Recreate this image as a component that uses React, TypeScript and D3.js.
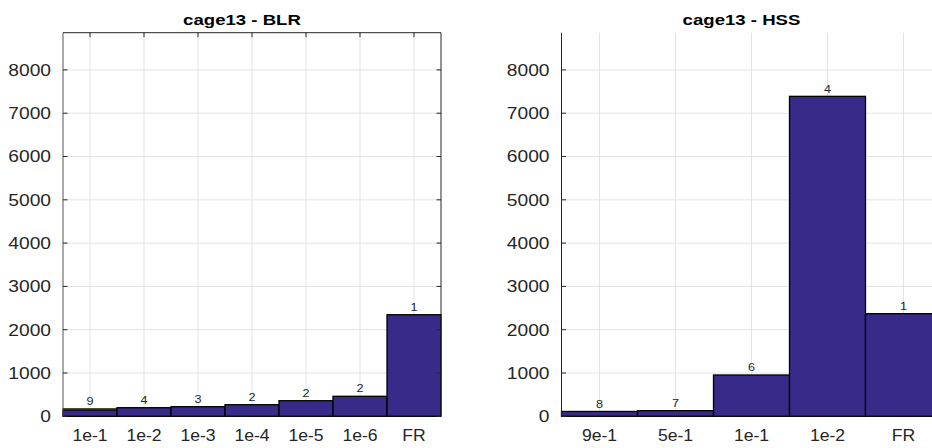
import React from 'react';
import * as d3 from 'd3';

const blrCategories = ['1e-1', '1e-2', '1e-3', '1e-4', '1e-5', '1e-6', 'FR'];
const blrValues = [145, 199, 222, 268, 360, 462, 2346];
const blrOlive = [180, 0, 0, 0, 0, 0, 0];
const blrCounts = [9, 4, 3, 2, 2, 2, 1];

const hssCategories = ['9e-1', '5e-1', '1e-1', '1e-2', 'FR'];
const hssValues = [112, 130, 954, 7390, 2370];
const hssCounts = [8, 7, 6, 4, 1];

const yTickValues = [0, 1000, 2000, 3000, 4000, 5000, 6000, 7000, 8000];
const yMax = 8860;

const BAR = '#372a88';
const OLIVE = '#817b12';
const GRID = '#e3e3e3';
const AXIS = '#262626';
const SX = 1.2;

type PanelProps = {
  title: string;
  cats: string[];
  values: number[];
  counts: number[];
  olive?: number[];
  x0: number;
  x1: number;
  box: boolean;
};

const TOP = 32.7;
const BOTTOM = 416.3;

function Txt({ x, y, size, anchor, weight, children, sx = SX }: any) {
  return (
    <text
      transform={`translate(${x},${y}) scale(${sx},1)`}
      fontSize={size}
      textAnchor={anchor}
      fontWeight={weight || 'normal'}
      style={{ fontFamily: "'Liberation Sans', Arial, sans-serif" }}
      fill={weight === 'bold' ? '#000' : AXIS}
    >
      {children}
    </text>
  );
}

function Panel({ title, cats, values, counts, olive, x0, x1, box }: PanelProps) {
  const x = d3.scaleBand<string>().domain(cats).range([x0, x1]).padding(0);
  const y = d3.scaleLinear().domain([0, yMax]).range([BOTTOM, TOP]);
  const bw = x.bandwidth();
  const cx = (c: string) => (x(c) as number) + bw / 2;
  return (
    <g>
      {yTickValues.map((t) => (
        <line key={'hg' + t} x1={x0} x2={x1} y1={y(t)} y2={y(t)} stroke={GRID} strokeWidth={1} />
      ))}
      {cats.map((c) => (
        <line key={'vg' + c} x1={cx(c)} x2={cx(c)} y1={TOP} y2={BOTTOM} stroke={GRID} strokeWidth={1} />
      ))}
      {olive &&
        olive.map((v, i) =>
          v > 0 ? (
            <rect
              key={'ol' + i}
              x={x(cats[i]) as number}
              y={y(v)}
              width={bw}
              height={BOTTOM - y(v)}
              fill={OLIVE}
              stroke="#000"
              strokeWidth={0.6}
            />
          ) : null
        )}
      {values.map((v, i) => (
        <rect
          key={'b' + i}
          x={x(cats[i]) as number}
          y={y(v)}
          width={bw}
          height={BOTTOM - y(v)}
          fill={BAR}
          stroke="#000"
          strokeWidth={1.3}
        />
      ))}
      {counts.map((n, i) => {
        const top = Math.max(values[i], olive ? olive[i] : 0);
        return (
          <Txt key={'c' + i} x={cx(cats[i])} y={y(top) - 3.8} size={11.5} anchor="middle" sx={1.1}>
            {String(n)}
          </Txt>
        );
      })}
      <line x1={x0} x2={x0} y1={TOP} y2={BOTTOM} stroke={box ? '#555' : AXIS} strokeWidth={1} />
      {box && <line x1={x0} x2={x1} y1={TOP} y2={TOP} stroke={AXIS} strokeWidth={1} />}
      {box && <line x1={x1} x2={x1} y1={TOP} y2={BOTTOM} stroke={AXIS} strokeWidth={1} />}
      {yTickValues.map((t) => (
        <line key={'yt' + t} x1={x0} x2={x0 + 4.5} y1={y(t)} y2={y(t)} stroke={AXIS} strokeWidth={1} />
      ))}
      {box &&
        yTickValues.map((t) => (
          <line key={'ytr' + t} x1={x1} x2={x1 - 4.5} y1={y(t)} y2={y(t)} stroke={AXIS} strokeWidth={1} />
        ))}
      {box &&
        cats.map((c) => (
          <line key={'xtt' + c} x1={cx(c)} x2={cx(c)} y1={TOP} y2={TOP + 4.5} stroke={AXIS} strokeWidth={1} />
        ))}
      {yTickValues.map((t) => (
        <Txt key={'yl' + t} x={x0 - 12} y={y(t) + 5.8} size={16} anchor="end">
          {String(t)}
        </Txt>
      ))}
      {cats.map((c) => (
        <Txt key={'xl' + c} x={cx(c)} y={440.5} size={16} anchor="middle" sx={1.1}>
          {c}
        </Txt>
      ))}
      <Txt x={(x0 + x1) / 2 - 10} y={24.5} size={15.5} anchor="middle" weight="bold">
        {title}
      </Txt>
    </g>
  );
}

export default function App() {
  return (
    <svg
      width={932}
      height={448}
      style={{ position: 'absolute', left: 0, top: 0, background: '#fff' }}
    >
      <rect x={0} y={0} width={932} height={448} fill="#fff" />
      <Panel
        title="cage13 - BLR"
        cats={blrCategories}
        values={blrValues}
        counts={blrCounts}
        olive={blrOlive}
        x0={63}
        x1={441}
        box={true}
      />
      <Panel
        title="cage13 - HSS"
        cats={hssCategories}
        values={hssValues}
        counts={hssCounts}
        x0={561.5}
        x1={941.5}
        box={false}
      />
    </svg>
  );
}
